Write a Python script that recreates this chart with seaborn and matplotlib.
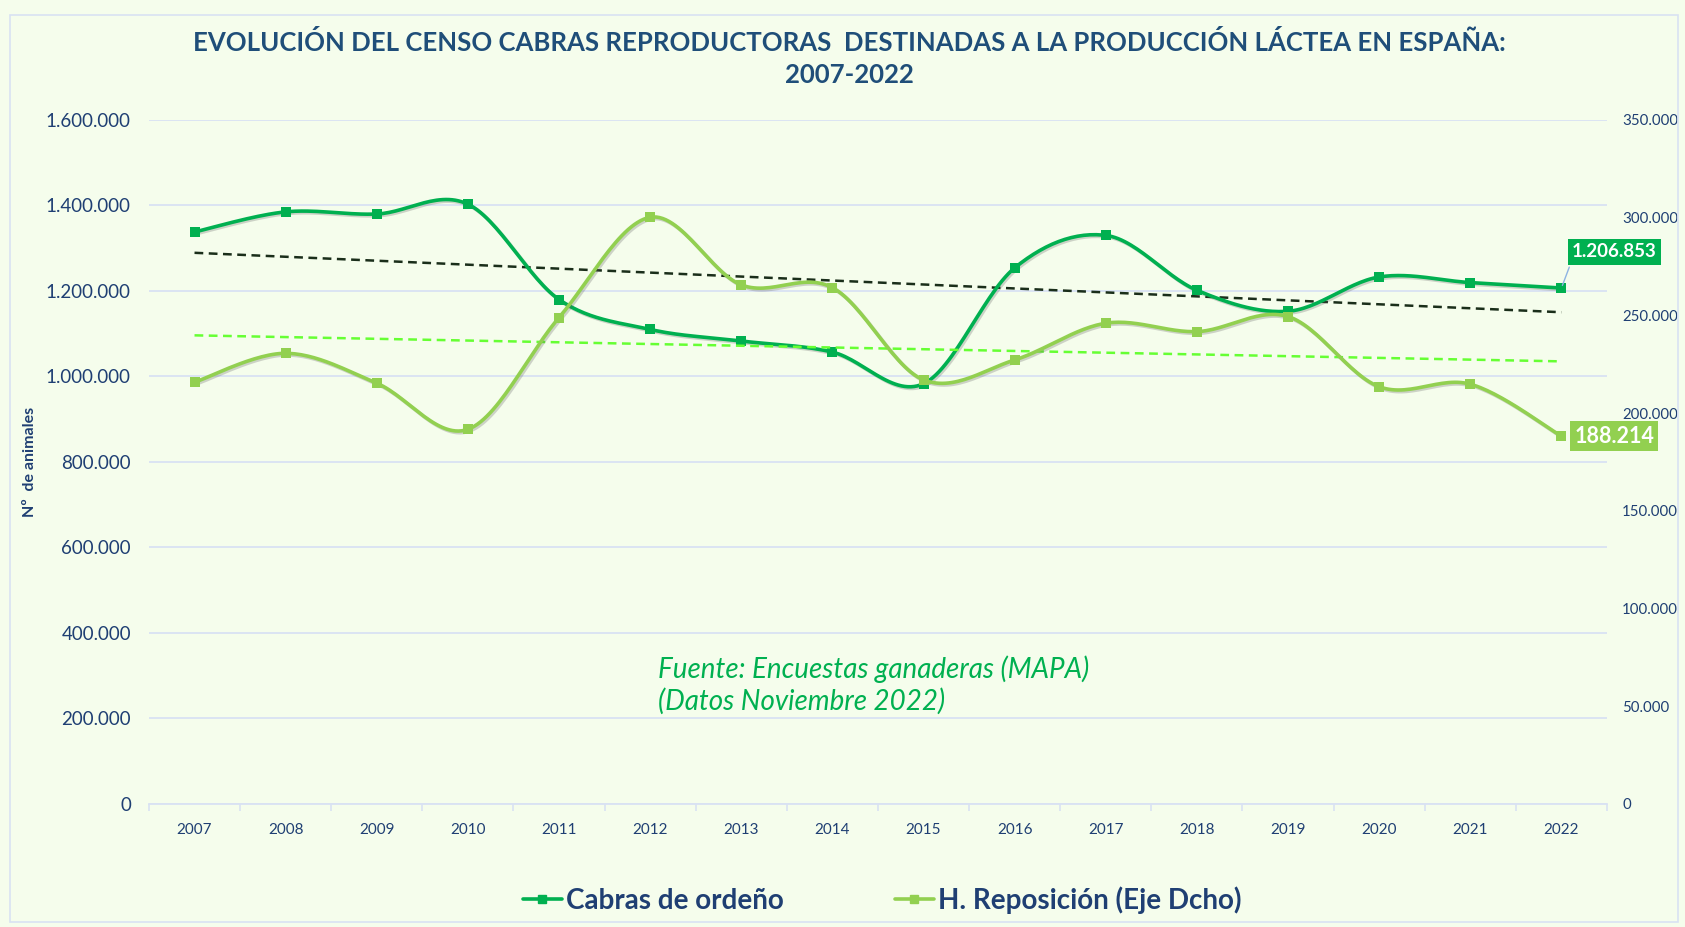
import numpy as np
import pandas as pd
import seaborn as sns
import matplotlib.pyplot as plt
import matplotlib.patheffects as pe
from matplotlib.lines import Line2D
from matplotlib.patches import Rectangle
from matplotlib.ticker import FuncFormatter, FixedLocator

# data
years = list(range(2007, 2023))
cabras = [1338000, 1385000, 1380000, 1403000, 1180000, 1110000, 1083000, 1057000,
          983000, 1254000, 1330000, 1201600, 1152500, 1232700, 1219600, 1206853]
reposicion = [215800, 230600, 215300, 191700, 248900, 300200, 265600, 264200,
              217000, 227200, 246000, 241700, 249400, 213500, 214800, 188214]

left_ticks = [0, 200000, 400000, 600000, 800000, 1000000, 1200000, 1400000, 1600000]
right_ticks = [0, 50000, 100000, 150000, 200000, 250000, 300000, 350000]

df = pd.DataFrame({'year': years, 'cabras': cabras, 'reposicion': reposicion})

DARK = '#00B050'
LIGHT = '#92D050'
NAVY = '#1F3F73'
GRID = '#D9E2F3'
BG = '#F5FDEC'


def smooth(x, y, n=30):
    # Excel-like smoothed line (cubic bezier, catmull-rom tangents)
    x = np.asarray(x, float)
    y = np.asarray(y, float)
    px = np.concatenate([[x[0]], x, [x[-1]]])
    py = np.concatenate([[y[0]], y, [y[-1]]])
    xs, ys = [], []
    t = np.linspace(0, 1, n)
    for i in range(1, len(px) - 2):
        p0 = np.array([px[i], py[i]])
        p3 = np.array([px[i + 1], py[i + 1]])
        p1 = p0 + (np.array([px[i + 1], py[i + 1]]) - np.array([px[i - 1], py[i - 1]])) / 6
        p2 = p3 - (np.array([px[i + 2], py[i + 2]]) - np.array([px[i], py[i]])) / 6
        b = ((1 - t) ** 3)[:, None] * p0 + (3 * (1 - t) ** 2 * t)[:, None] * p1 \
            + (3 * (1 - t) * t ** 2)[:, None] * p2 + (t ** 3)[:, None] * p3
        xs.append(b[:, 0])
        ys.append(b[:, 1])
    return np.concatenate(xs), np.concatenate(ys)


sns.set_theme(style='white')
plt.rcParams['font.family'] = ['Lato', 'DejaVu Sans']

fig = plt.figure(figsize=(16.85, 9.27), dpi=100, facecolor=BG)
ax = fig.add_axes([0.0884, 0.1327, 0.8653, 0.7379])
ax.set_facecolor(BG)
ax2 = ax.twinx()

shadow = [pe.SimpleLineShadow(offset=(1.2, -1.2), alpha=0.25, shadow_color='#555555'), pe.Normal()]

# trend lines
for col, axis, color in [('cabras', ax, '#1A2E1A'), ('reposicion', ax2, '#66FF33')]:
    k, b = np.polyfit(df['year'], df[col], 1)
    trend = pd.DataFrame({'year': years, 'fit': k * df['year'] + b})
    sns.lineplot(data=trend, x='year', y='fit', ax=axis, color=color, lw=1.8,
                 linestyle=(0, (3.5, 2.2)), zorder=2)

# smoothed series + square markers
sx, sy = smooth(years, cabras)
ax.plot(sx, sy, color=DARK, lw=2.6, zorder=4, path_effects=shadow, solid_capstyle='round')
sns.scatterplot(data=df, x='year', y='cabras', ax=ax, marker='s', s=48, color=DARK,
                linewidth=0, zorder=5)
sx, sy = smooth(years, reposicion)
ax2.plot(sx, sy, color=LIGHT, lw=2.6, zorder=4, path_effects=shadow, solid_capstyle='round')
sns.scatterplot(data=df, x='year', y='reposicion', ax=ax2, marker='s', s=48, color=LIGHT,
                linewidth=0, zorder=5)

ax.set_xlim(2006.5, 2022.5)
ax.set_ylim(0, 1600000)
ax2.set_ylim(0, 350000)

fmt = FuncFormatter(lambda v, p: f'{int(v):,}'.replace(',', '.'))
ax.yaxis.set_major_locator(FixedLocator(left_ticks))
ax.yaxis.set_major_formatter(fmt)
ax2.yaxis.set_major_locator(FixedLocator(right_ticks))
ax2.yaxis.set_major_formatter(fmt)
ax.set_xticks(years)
ax.set_xticks(np.arange(2006.5, 2023, 1), minor=True)

ax.grid(axis='y', color=GRID, lw=1.3)
ax.set_axisbelow(True)
for a in (ax, ax2):
    for s in ['top', 'left', 'right', 'bottom']:
        a.spines[s].set_visible(False)
ax.spines['bottom'].set_visible(True)
ax.spines['bottom'].set_color(GRID)
ax.spines['bottom'].set_linewidth(1.3)

ax.tick_params(axis='y', length=0, pad=13, labelsize=13.5, labelcolor=NAVY)
ax2.tick_params(axis='y', length=0, pad=11, labelsize=10.8, labelcolor=NAVY)
ax.tick_params(axis='x', which='major', length=0, pad=14, labelsize=11, labelcolor=NAVY)
ax.tick_params(axis='x', which='minor', length=5, width=1.2, color=GRID, bottom=True)
ax.set_xlabel('')
ax.set_ylabel('')
ax2.set_ylabel('')

# end labels
ax.annotate('1.206.853', xy=(years[-1], cabras[-1]), xytext=(38, 26), textcoords='offset points',
            ha='center', va='center', color='white', fontsize=13.5, fontweight='bold',
            bbox=dict(boxstyle='square,pad=0.22', fc=DARK, ec='none'),
            arrowprops=dict(arrowstyle='-', color='#8EB4E3', lw=1, relpos=(0, 0)), zorder=6)
ax2.annotate('188.214', xy=(years[-1], reposicion[-1]), xytext=(38, 0), textcoords='offset points',
             ha='center', va='center', color='white', fontsize=15.5, fontweight='bold',
             bbox=dict(boxstyle='square,pad=0.2', fc=LIGHT, ec='none'), zorder=6)

# source note
ax.text(0.349, 0.174, 'Fuente: Encuestas ganaderas (MAPA)\n(Datos Noviembre 2022)',
        transform=ax.transAxes, color=DARK, fontsize=20, style='italic',
        ha='left', va='center', linespacing=1.2)

# title and y label
fig.text(0.504, 0.9374, 'EVOLUCIÓN DEL CENSO CABRAS REPRODUCTORAS  DESTINADAS A LA PRODUCCIÓN LÁCTEA EN ESPAÑA:\n2007-2022',
         ha='center', va='center', color='#1F4E79', fontsize=18.5, fontweight='bold', linespacing=1.4)
fig.text(0.0178, 0.5016, 'Nº  de animales', rotation=90, ha='center', va='center',
         color=NAVY, fontsize=11.5, fontweight='bold')

# legend
handles = [Line2D([], [], color=DARK, lw=2.6, marker='s', markersize=6),
           Line2D([], [], color=LIGHT, lw=2.6, marker='s', markersize=6)]
leg = fig.legend(handles, ['Cabras de ordeño', 'H. Reposición (Eje Dcho)'], loc='center',
                 bbox_to_anchor=(882 / 1685, 1 - 900 / 927), ncol=2, frameon=False,
                 handlelength=1.4, handletextpad=0.15, columnspacing=4.0,
                 prop={'size': 20, 'weight': 'bold'})
for t in leg.get_texts():
    t.set_color(NAVY)

# chart border
fig.patches.append(Rectangle((10 / 1685, 5 / 927), 1668 / 1685, 907 / 927, transform=fig.transFigure,
                             fill=False, ec=GRID, lw=1.2))

plt.savefig('out.png', dpi=100, facecolor=BG)
